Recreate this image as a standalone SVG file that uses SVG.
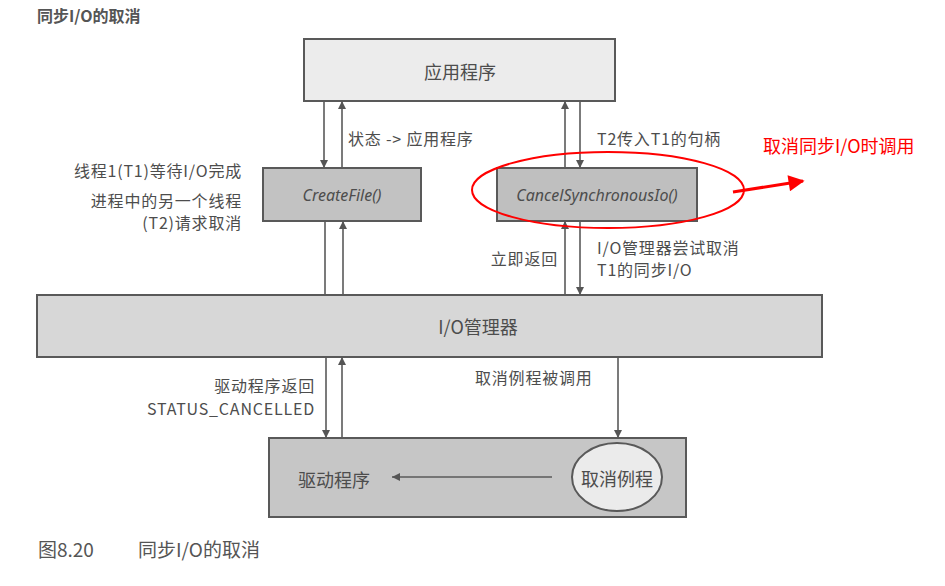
<svg xmlns="http://www.w3.org/2000/svg" width="945" height="586" viewBox="0 0 945 586">
<defs>
<marker id="ah" viewBox="0 0 10 10" refX="10" refY="5" markerWidth="8" markerHeight="8" markerUnits="userSpaceOnUse" orient="auto"><path d="M0,0 L10,5 L0,10 z" fill="#555"/></marker>
<marker id="rh" viewBox="0 0 10 10" refX="9" refY="5" markerWidth="22" markerHeight="16" markerUnits="userSpaceOnUse" orient="auto"><path d="M0,0 L10,5 L0,10 z" fill="#f00"/></marker>
<style>
text{font-family:"Noto Sans CJK SC","Noto Sans",sans-serif;fill:#4d4d4d;dominant-baseline:central}
.box{stroke:#595959;stroke-width:2}
.lbl{font-size:16px;letter-spacing:0.8px}
.big{font-size:18px}
.fn{font-size:16px;font-style:italic;font-family:"Noto Sans","Open Sans",sans-serif}
.con line{stroke:#5a5a5a;stroke-width:1.6}
</style>
</defs>
<rect width="945" height="586" fill="#fff"/>
<text x="37" y="15" style="font-size:16px;font-weight:bold;fill:#555">同步I/O的取消</text>

<g id="app"><rect class="box" x="304" y="39" width="311" height="62" fill="#ececec"/><text class="big" x="460" y="71" text-anchor="middle">应用程序</text></g>
<g id="createfile"><rect class="box" x="263" y="168" width="158" height="53" fill="#c2c2c2"/><text class="fn" x="342" y="195" text-anchor="middle">CreateFile()</text></g>
<g id="cancelsync"><rect class="box" x="497" y="168" width="200" height="53" fill="#bfbfbf"/><text class="fn" x="597" y="195" text-anchor="middle">CancelSynchronousIo()</text></g>
<g id="iomgr"><rect class="box" x="37" y="295" width="785" height="62" fill="#d7d7d7"/><text class="big" x="478" y="326" text-anchor="middle">I/O管理器</text></g>
<g id="driver"><rect class="box" x="269" y="438" width="417" height="79" fill="#c6c6c6"/><text class="big" x="334" y="479" text-anchor="middle">驱动程序</text></g>
<g id="cancelroutine"><ellipse cx="617" cy="477" rx="45" ry="34" fill="#ebebeb" stroke="#595959" stroke-width="2"/><text class="big" x="617" y="478" text-anchor="middle">取消例程</text></g>

<g class="con" id="connectors">
<line x1="324" y1="101" x2="324" y2="168" marker-end="url(#ah)"/>
<line x1="342" y1="168" x2="342" y2="101" marker-end="url(#ah)"/>
<line x1="565" y1="168" x2="565" y2="101" marker-end="url(#ah)"/>
<line x1="580" y1="101" x2="580" y2="168" marker-end="url(#ah)"/>
<line x1="325" y1="221" x2="325" y2="295"/>
<line x1="343" y1="295" x2="343" y2="221" marker-end="url(#ah)"/>
<line x1="565" y1="295" x2="565" y2="221" marker-end="url(#ah)"/>
<line x1="580" y1="221" x2="580" y2="295" marker-end="url(#ah)"/>
<line x1="326" y1="357" x2="326" y2="438" marker-end="url(#ah)"/>
<line x1="342" y1="438" x2="342" y2="357" marker-end="url(#ah)"/>
<line x1="618" y1="357" x2="618" y2="438" marker-end="url(#ah)"/>
<line x1="552" y1="477" x2="392" y2="477" marker-end="url(#ah)"/>
</g>

<g id="labels">
<text class="lbl" x="348" y="138">状态 -&gt; 应用程序</text>
<text class="lbl" x="597" y="138">T2传入T1的句柄</text>
<text class="lbl" x="242" y="170" text-anchor="end">线程1(T1)等待I/O完成</text>
<text class="lbl" x="242" y="200" text-anchor="end">进程中的另一个线程</text>
<text class="lbl" x="242" y="222" text-anchor="end">(T2)请求取消</text>
<text class="lbl" x="558" y="258" text-anchor="end">立即返回</text>
<text class="lbl" x="597" y="247">I/O管理器尝试取消</text>
<text class="lbl" x="597" y="269">T1的同步I/O</text>
<text class="lbl" x="315" y="385" text-anchor="end">驱动程序返回</text>
<text class="lbl" x="315" y="408" text-anchor="end">STATUS_CANCELLED</text>
<text class="lbl" x="475" y="377">取消例程被调用</text>
</g>

<g id="annotation">
<ellipse cx="608" cy="190" rx="136" ry="38" fill="none" stroke="#f00" stroke-width="2"/>
<line x1="733" y1="192" x2="803" y2="181" stroke="#f00" stroke-width="3" marker-end="url(#rh)"/>
<text x="763" y="145" style="font-size:18px;fill:#f00">取消同步I/O时调用</text>
</g>

<g id="caption">
<text x="38" y="548" style="font-size:19px;fill:#555">图8.20</text>
<text x="138" y="548" style="font-size:19px;fill:#555">同步I/O的取消</text>
</g>
</svg>
